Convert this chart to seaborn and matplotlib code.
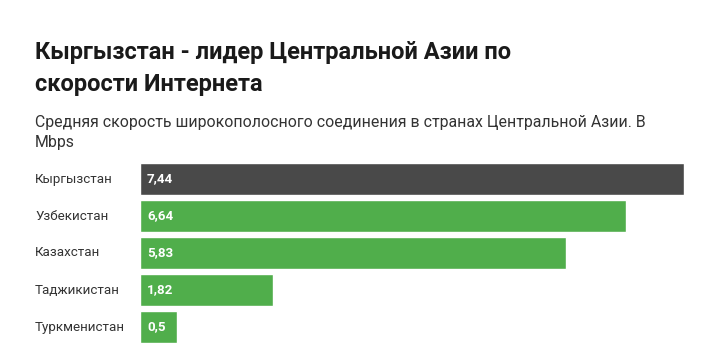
import matplotlib
matplotlib.use("Agg")
import matplotlib.pyplot as plt
import matplotlib.transforms as mtransforms
import seaborn as sns
import pandas as pd

countries = ["Кыргызстан", "Узбекистан", "Казахстан", "Таджикистан", "Туркменистан"]
speeds = [7.44, 6.64, 5.83, 1.82, 0.5]
value_labels = ["7,44", "6,64", "5,83", "1,82", "0,5"]
bar_colors = ["#494949", "#50ae4b", "#50ae4b", "#50ae4b", "#50ae4b"]

title_lines = ["Кыргызстан - лидер Центральной Азии по", "скорости Интернета"]
subtitle_lines = ["Средняя скорость широкополосного соединения в странах Центральной Азии. В",
                  "Mbps"]

sns.set_theme(style="white")
plt.rcParams["font.family"] = ["Roboto", "DejaVu Sans"]

df = pd.DataFrame({"country": countries, "speed": speeds})

W, H = 719, 364
fig = plt.figure(figsize=(W / 100, H / 100), dpi=100)
ax = fig.add_axes([140 / W, 1 - 345.5 / H, (684 - 140) / W, 185 / H])

sns.barplot(data=df, y="country", x="speed", hue="country",
            palette=dict(zip(countries, bar_colors)), legend=False,
            width=32 / 37, ax=ax, saturation=1, orient="h")

ax.set_xlim(0, max(speeds))
ax.set_ylim(len(countries) - 0.5, -0.5)
ax.set_axis_off()

lab_tr = mtransforms.blended_transform_factory(fig.transFigure, ax.transData)
val_tr = ax.transData + mtransforms.ScaledTranslation(7 / 100, 0, fig.dpi_scale_trans)
for i, (c, v, t) in enumerate(zip(countries, speeds, value_labels)):
    ax.text(35 / W, i, c, transform=lab_tr, ha="left", va="center",
            fontsize=9.6, color="#333333")
    ax.text(0, i, t, transform=val_tr, ha="left", va="center",
            fontsize=9.6, color="white", fontweight="bold")

for line, base in zip(title_lines, [59, 91]):
    fig.text(35 / W, 1 - base / H, line, ha="left", va="baseline", fontsize=17,
             fontweight="bold", color="#1a1a1a")
for line, base in zip(subtitle_lines, [127, 147]):
    fig.text(35 / W, 1 - base / H, line, ha="left", va="baseline", fontsize=11.4,
             color="#333333")

fig.savefig("out.png", dpi=100)
